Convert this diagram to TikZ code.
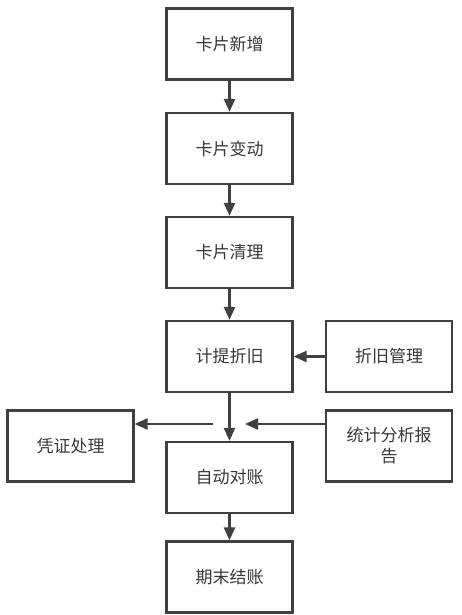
\documentclass[tikz,border=0pt]{standalone}
\usepackage{fontspec}
\setmainfont{Noto Sans CJK SC}
\usetikzlibrary{arrows.meta}
\definecolor{linegray}{HTML}{404040}
\definecolor{textgray}{HTML}{383838}

\begin{document}
\begin{tikzpicture}[x=1pt,y=-1pt,
	box/.style={draw=linegray, line width=2.2pt, minimum width=126pt, minimum height=71pt, inner sep=0pt, align=center, font=\fontsize{17}{21}\selectfont, text=textgray},
	flow/.style={draw=linegray, line width=2.2pt, -{Triangle[length=13pt,width=11pt]}}]
	\useasboundingbox (0,0) rectangle (462,615);
	\node[box] (xinzeng) at (229.5,44) {卡片新增};
	\node[box] (biandong) at (229.5,148.5) {卡片变动};
	\node[box] (qingli) at (229.5,252.5) {卡片清理};
	\node[box] (jiti) at (229.5,356.5) {计提折旧};
	\node[box] (guanli) at (389,356.5) {折旧管理};
	\node[box] (pingzheng) at (70.5,446) {凭证处理};
	\node[box] (tongji) at (389,446) {统计分析报\\告};
	\node[box] (duizhang) at (229.5,477.5) {自动对账};
	\node[box] (jiezhang) at (229.5,577) {期末结账};
	\coordinate (fenzhi) at (213,424);
	\coordinate (huiru) at (245,424);
	\draw[flow] (xinzeng) -- (biandong);
	\draw[flow] (biandong) -- (qingli);
	\draw[flow] (qingli) -- (jiti);
	\draw[flow] (guanli) -- (jiti);
	\draw[flow] (jiti) -- (duizhang);
	\draw[flow] (fenzhi) -- (pingzheng.east |- fenzhi);
	\draw[flow] (tongji.west |- huiru) -- (huiru);
	\draw[flow] (duizhang) -- (jiezhang);
\end{tikzpicture}
\end{document}
